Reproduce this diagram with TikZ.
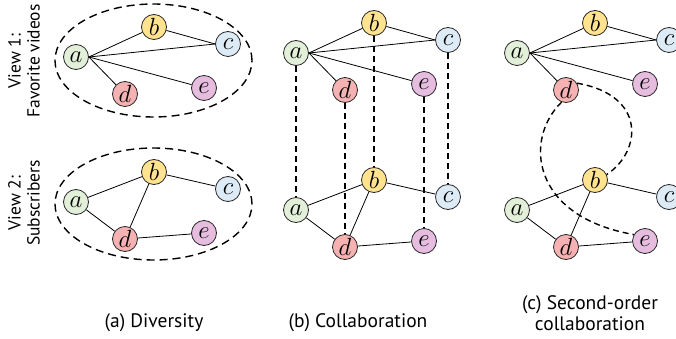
\documentclass[tikz,border=0pt]{standalone}
\usepackage{fontspec}
\setmainfont{PT Sans}
\definecolor{cA}{HTML}{E2EFD9}
\definecolor{cB}{HTML}{FFE38F}
\definecolor{cC}{HTML}{DDEBF7}
\definecolor{cD}{HTML}{F6B2B2}
\definecolor{cE}{HTML}{E6BCDF}
\newcommand{\gnodes}[3]{%
  \begin{scope}[shift={(#2,#3)}]
    \node[vtx,fill=cA] (#1a) at (0,0) {$a$};
    \node[vtx,fill=cB] (#1b) at (78,-30) {$b$};
    \node[vtx,fill=cC] (#1c) at (152,-13) {$c$};
    \node[vtx,fill=cD] (#1d) at (49,37) {$d$};
    \node[vtx,fill=cE] (#1e) at (128,31) {$e$};
  \end{scope}}
\newcommand{\topedges}[1]{%
  \draw[edge] (#1a.east) -- (#1b);
  \draw[edge] (#1a.east) -- (#1c.west);
  \draw[edge] (#1a.east) -- (#1d);
  \draw[edge] (#1a.east) -- (#1e);
  \draw[edge] (#1b) -- (#1c.west);}
\newcommand{\botedges}[1]{%
  \draw[edge] (#1a) -- (#1b);
  \draw[edge] (#1a) -- (#1d);
  \draw[edge] (#1b) -- (#1d);
  \draw[edge] (#1b) -- (#1c);
  \draw[edge] (#1d) -- (#1e);}
\begin{document}
\begin{tikzpicture}[x=1pt,y=-1pt,
  vtx/.style={circle,draw=black!85,line width=0.8pt,minimum size=25pt,inner sep=0pt,font=\fontsize{23}{23}\selectfont},
  edge/.style={line width=0.8pt},
  dsh/.style={line width=1.4pt,dash pattern=on 6pt off 4pt},
  captxt/.style={font=\fontsize{19.5}{21}\selectfont,inner sep=0pt,align=center},
  sidetxt/.style={font=\fontsize{17.5}{19}\selectfont,inner sep=0pt,align=center,rotate=90}]
\useasboundingbox (0,0) rectangle (676,339);
% panel (a)
\draw[dsh,dash pattern=on 8pt off 5pt] (153.5,60.5) ellipse [x radius=98.5pt, y radius=56.5pt];
\draw[dsh,dash pattern=on 8pt off 5pt] (153.5,204) ellipse [x radius=98.5pt, y radius=56pt];
\gnodes{At}{76}{57}
\gnodes{Ab}{76}{202}
\topedges{At}
\botedges{Ab}
\node[sidetxt] (lab1) at (24,61) {View 1:\\Favorite videos};
\node[sidetxt] (lab2) at (24,203) {View 2:\\Subscribers};
% panel (b)
\gnodes{Bt}{296}{53}
\gnodes{Bb}{296}{210}
\topedges{Bt}
\botedges{Bb}
\foreach \n in {a,b,c,d,e}{\draw[dsh] (Bt\n.south) -- (Bb\n.north);}
% panel (c)
\gnodes{Ct}{517}{53}
\gnodes{Cb}{517}{210}
\topedges{Ct}
\botedges{Cb}
\draw[dsh] (Ctd.32) .. controls +(70,12) and +(35,-23) .. (Cbb.25);
\draw[dsh] (Ctd.250) .. controls +(-38,37) and +(-103,-18) .. (Cbe.150);
% captions
\node[captxt] (capa) at (154,323) {(a) Diversity};
\node[captxt] (capb) at (358,323) {(b) Collaboration};
\node[captxt] (capc) at (590,313) {(c) Second-order\\collaboration};
\end{tikzpicture}
\end{document}
